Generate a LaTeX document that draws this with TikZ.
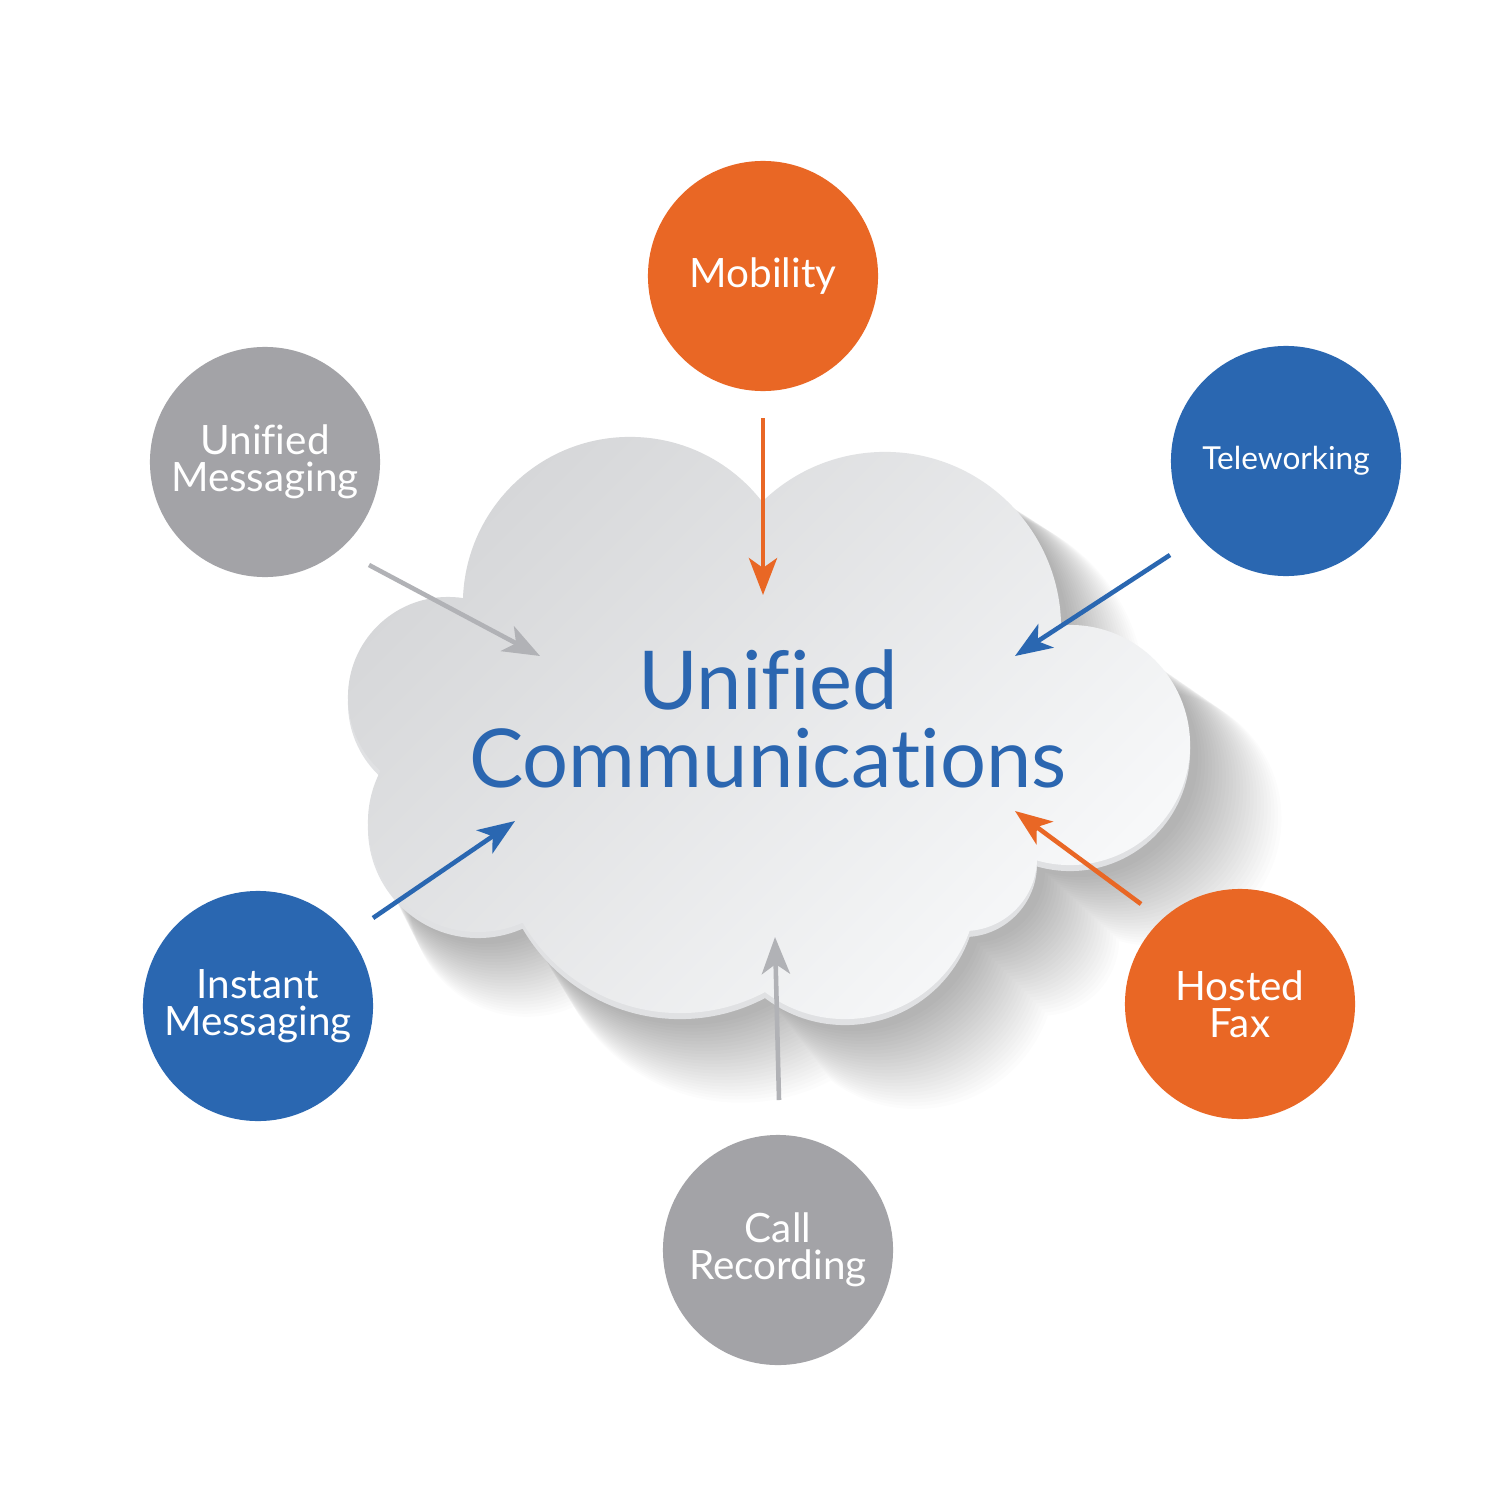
\documentclass[tikz,border=0pt]{standalone}
\usepackage{fontspec}
\setmainfont{Lato}[Ligatures={NoCommon}]
\usetikzlibrary{arrows.meta}
\definecolor{ucOrange}{HTML}{E96725}
\definecolor{ucBlue}{HTML}{2A67B1}
\definecolor{ucGray}{HTML}{A3A3A7}
\definecolor{ucArrowGray}{HTML}{B1B2B6}
\definecolor{ucTitle}{HTML}{2B66B0}
\definecolor{cloudDark}{HTML}{D6D7D9}
\definecolor{cloudLight}{HTML}{F8F9FA}
\definecolor{cloudRim}{HTML}{E0E1E3}
\newcommand{\cloudpath}{(630,604) circle[radius=1.67cm] (885,628) circle[radius=1.76cm] (1070,745) circle[radius=1.2cm] (964,858) circle[radius=0.73cm] (845,887) circle[radius=1.32cm] (680,831) circle[radius=1.82cm] (478,822) circle[radius=1.1cm] (448,697) circle[radius=1cm] (760,740) circle[radius=2.2cm]}
\begin{document}
\begin{tikzpicture}[x=0.01cm, y=-0.01cm,
  bubble/.style={circle, minimum size=2.3cm, inner sep=0pt, text=white, align=center, font=\fontsize{11.5}{10.4}\selectfont},
  feed/.style={line width=1.3pt, -{Stealth[length=10.5pt, width=8pt, inset=2.8pt]}}]
\useasboundingbox (0,0) rectangle (1500,1500);
\fill[white] (0,0) rectangle (1500,1500);
% cloud shadow (soft, below right)
\foreach \k [evaluate=\k as \sc using 1.0+0.0025*\k,
             evaluate=\k as \dx using 8+1.5*\k,
             evaluate=\k as \dy using 12+2.2*\k] in {0,...,24}{
  \fill[black, opacity=0.011, shift={(\dx,\dy)}, scale around={\sc:(400,600)}] \cloudpath;
}
% cloud rim and face
\fill[cloudRim, shift={(0,6)}] \cloudpath;
\shade[top color=cloudDark, bottom color=cloudLight, shading angle=45] \cloudpath;
% title
\node[text=ucTitle, font=\fontsize{23.1}{21.9}\selectfont, align=center, anchor=base] (uc) at (768,787) {Unified\\Communications};
% circles
\node[bubble, fill=ucOrange] (mob) at (763,276) {Mobility};
\node[bubble, fill=ucGray] (um) at (265,462) {Unified\\Messaging};
\node[bubble, fill=ucBlue, font=\fontsize{9}{10}\selectfont] (tele) at (1286,461) {Teleworking};
\node[bubble, fill=ucBlue] (im) at (258,1006) {Instant\\Messaging};
\node[bubble, fill=ucOrange] (hf) at (1240,1004) {Hosted\\Fax};
\node[bubble, fill=ucGray] (cr) at (778,1250) {Call\\Recording};
% arrow ends
\coordinate (mobS) at (763,418); \coordinate (mobE) at (763,595);
\coordinate (umS) at (369,565);  \coordinate (umE) at (540,656);
\coordinate (teleS) at (1170,555); \coordinate (teleE) at (1015,656);
\coordinate (imS) at (373,918);  \coordinate (imE) at (515,821);
\coordinate (hfS) at (1141,904); \coordinate (hfE) at (1015,811);
\coordinate (crS) at (779,1100); \coordinate (crE) at (775,937);
\draw[feed, ucOrange] (mobS) -- (mobE);
\draw[feed, ucArrowGray] (umS) -- (umE);
\draw[feed, ucBlue] (teleS) -- (teleE);
\draw[feed, ucBlue] (imS) -- (imE);
\draw[feed, ucOrange] (hfS) -- (hfE);
\draw[feed, ucArrowGray] (crS) -- (crE);
\end{tikzpicture}
\end{document}
